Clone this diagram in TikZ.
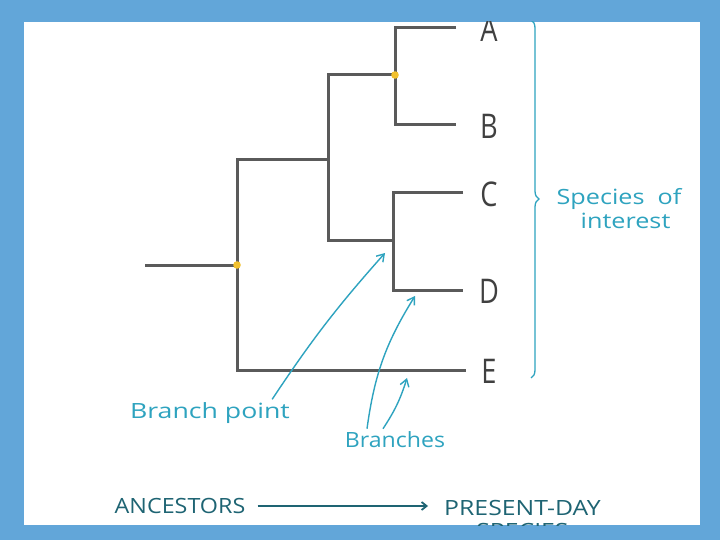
\documentclass[tikz,border=0pt]{standalone}
\usepackage{fontspec}
\setmainfont{Open Sans}
\usetikzlibrary{arrows.meta,decorations.pathreplacing}
\definecolor{marco}{HTML}{62A6D9}
\definecolor{rama}{HTML}{5A5A5A}
\definecolor{nudo}{HTML}{F2C12E}
\definecolor{nota}{HTML}{2EA3BF}
\definecolor{eje}{HTML}{1E6473}

\begin{document}
\begin{tikzpicture}[x=1pt,y=-1pt,
    linea/.style={rama, line width=3pt},
    hoja/.style={inner sep=0pt, font=\fontsize{34}{34}\selectfont, xscale=0.8, text=black!75},
    flecha/.style={nota, line width=1.4pt, -{Straight Barb[length=7pt,width=9pt]}},
    letrero/.style={nota, inner sep=0pt, font=\fontsize{21}{24}\selectfont}]
  % Marco azul y fondo blanco
  \fill[marco] (0,0) rectangle (720,540);
  \fill[white] (24,22) rectangle (700,525);
  \begin{scope}
  \clip (24,22) rectangle (700,525);

  % Nudos del arbol
  \coordinate (raiz) at (145,265);
  \coordinate (n1) at (237,265);
  \coordinate (n2) at (328,160);
  \coordinate (n3) at (395,75);
  \coordinate (n4) at (393,240);

  % Extremos de las ramas y especies
  \foreach \s/\xf/\y in {A/456/28, B/456/125, C/463/193, D/463/290, E/466/370}
  {
    \coordinate (f\s) at (\xf,\y);
    \node[hoja] (\s) at (489,\y+1) {\s};
  }

  % Ramas
  \draw[linea] (raiz) -- (n1);
  \draw[linea] (n2) -| (n1) |- (fE);
  \draw[linea] (n3) -| (n2) |- (n4);
  \draw[linea] (fA) -| (n3) |- (fB);
  \draw[linea] (fC) -| (n4) |- (fD);
  \fill[nudo] (n1) circle (3.8);
  \fill[nudo] (n3) circle (3.8);

  % Llave y especies de interes
  \draw[nota, line width=1.3pt, decorate, decoration={brace, amplitude=8pt}]
    (531,20) -- (531,378);
  \node[letrero, align=center, xscale=1.2] (interes) at (619,209) {Species\ \ of\\\ \ interest};

  % Notas con flechas
  \node[letrero, xscale=1.27] (bp) at (210,413) {Branch point};
  \node[letrero, xscale=1.1] (ramas) at (395,440) {Branches};
  \draw[flecha] ([xshift=-18pt,yshift=3pt]bp.north east) to[bend left=4] ([shift={(-8,13)}]n4);
  \draw[flecha] ([xshift=-28pt,yshift=3pt]ramas.north) to[bend left=12] ([shift={(22,6)}]n4 |- fD);
  \draw[flecha] ([xshift=-12pt,yshift=3pt]ramas.north) to[bend right=8] ([shift={(14,8)}]n4 |- fE);

  % Eje del tiempo
  \node[eje, inner sep=0pt, xscale=1.11, font=\fontsize{21}{23}\selectfont] (anc) at (180,506) {ANCESTORS};
  \node[eje, inner sep=0pt, anchor=west, align=center, xscale=1.18, font=\fontsize{21}{23}\selectfont] (hoy) at (444,519) {PRESENT-DAY\\SPECIES};
  \draw[eje, line width=1.8pt, -{Straight Barb[length=5pt,width=8pt]}] ([xshift=12pt]anc.east) -- (428,506);
  \end{scope}
\end{tikzpicture}
\end{document}
